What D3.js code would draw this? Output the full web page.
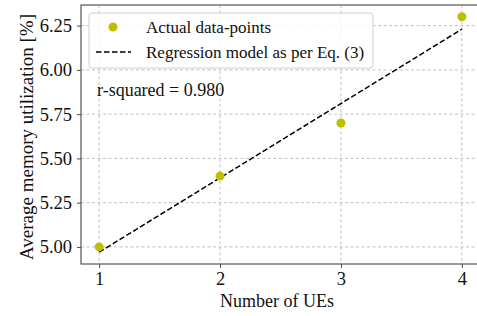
<!DOCTYPE html>
<html>
<head>
<meta charset="utf-8">
<script src="https://cdn.jsdelivr.net/npm/d3@7"></script>
<style>
  body { margin: 0; background: #fff; }
  svg { display: block; font-family: "Liberation Serif", "Times New Roman", serif; }
</style>
</head>
<body>
<svg id="chart"></svg>
<script>
// Data
let numUEs = [1, 2, 3, 4];
let memUtil = [5.00, 5.40, 5.70, 6.30];
let fitX = [1, 4];
let fitY = [4.97, 6.23];
let xTicks = [1, 2, 3, 4];
let yTicks = [5.00, 5.25, 5.50, 5.75, 6.00, 6.25];
let rSquaredText = "r-squared = 0.980";

let width = 477, height = 316;
let margin = {top: 5, right: -3, bottom: 52, left: 81};

let svg = d3.select("#chart")
  .attr("width", width)
  .attr("height", height);

let x = d3.scaleLinear().domain([0.85, 4.15]).range([margin.left, width - margin.right]);
let y = d3.scaleLinear().domain([4.9035, 6.3665]).range([height - margin.bottom, margin.top]);

// Grid lines
let grid = svg.append("g").attr("stroke", "#b0b0b0").attr("stroke-width", 0.8).attr("stroke-dasharray", "3,2.5");
grid.selectAll(".gx").data(xTicks).join("line")
  .attr("x1", d => x(d)).attr("x2", d => x(d))
  .attr("y1", margin.top).attr("y2", height - margin.bottom);
grid.selectAll(".gy").data(yTicks).join("line")
  .attr("x1", margin.left).attr("x2", width - margin.right)
  .attr("y1", d => y(d)).attr("y2", d => y(d));

// Axes
let xAxis = svg.append("g")
  .attr("transform", "translate(0," + (height - margin.bottom) + ")")
  .call(d3.axisBottom(x).tickValues(xTicks).tickFormat(d3.format("d")).tickSize(4).tickPadding(4));
let yAxis = svg.append("g")
  .attr("transform", "translate(" + margin.left + ",0)")
  .call(d3.axisLeft(y).tickValues(yTicks).tickFormat(d3.format(".2f")).tickSize(4).tickPadding(5));

[xAxis, yAxis].forEach(a => {
  a.select(".domain").remove();
  a.selectAll("line").attr("stroke", "#333").attr("stroke-width", 0.9);
  a.selectAll("text").attr("fill", "#111").style("font-size", "18.5px")
    .style("font-family", "'Liberation Serif', 'Times New Roman', serif");
});

// Frame
svg.append("rect")
  .attr("x", margin.left).attr("y", margin.top)
  .attr("width", width - margin.right - margin.left)
  .attr("height", height - margin.bottom - margin.top)
  .attr("fill", "none").attr("stroke", "#555").attr("stroke-width", 1.2);

// Regression line
let line = d3.line().x(d => x(d[0])).y(d => y(d[1]));
svg.append("path")
  .datum(fitX.map((v, i) => [v, fitY[i]]))
  .attr("d", line)
  .attr("fill", "none").attr("stroke", "#000").attr("stroke-width", 1.5)
  .attr("stroke-dasharray", "5.5,2.5");

// Data points
svg.append("g").selectAll("circle").data(numUEs).join("circle")
  .attr("cx", d => x(d))
  .attr("cy", (d, i) => y(memUtil[i]))
  .attr("r", 4.5)
  .attr("fill", "#bfbf00");

// r-squared annotation
svg.append("text")
  .attr("x", 97).attr("y", 96)
  .style("font-size", "18px").attr("fill", "#111")
  .text(rSquaredText);

// Axis labels
svg.append("text")
  .attr("x", 277).attr("y", 307)
  .attr("text-anchor", "middle")
  .style("font-size", "18px").attr("fill", "#111")
  .text("Number of UEs");
svg.append("text")
  .attr("transform", "translate(33,137) rotate(-90)")
  .attr("text-anchor", "middle")
  .style("font-size", "19px").attr("fill", "#111")
  .text("Average memory utilization [%]");

// Legend
let legend = svg.append("g");
legend.append("rect")
  .attr("x", 89).attr("y", 13).attr("width", 284).attr("height", 55).attr("rx", 3)
  .attr("fill", "#fff").attr("fill-opacity", 0.85)
  .attr("stroke", "#d0d0d0").attr("stroke-width", 1);
legend.append("circle").attr("cx", 113).attr("cy", 27).attr("r", 4.5).attr("fill", "#bfbf00");
legend.append("line").attr("x1", 96).attr("x2", 131).attr("y1", 52).attr("y2", 52)
  .attr("stroke", "#000").attr("stroke-width", 1.5).attr("stroke-dasharray", "5.5,2.5");
legend.append("text").attr("x", 146).attr("y", 33)
  .style("font-size", "17px").attr("fill", "#111").text("Actual data-points");
legend.append("text").attr("x", 146).attr("y", 58)
  .style("font-size", "17px").attr("fill", "#111").text("Regression model as per Eq. (3)");
</script>
</body>
</html>
